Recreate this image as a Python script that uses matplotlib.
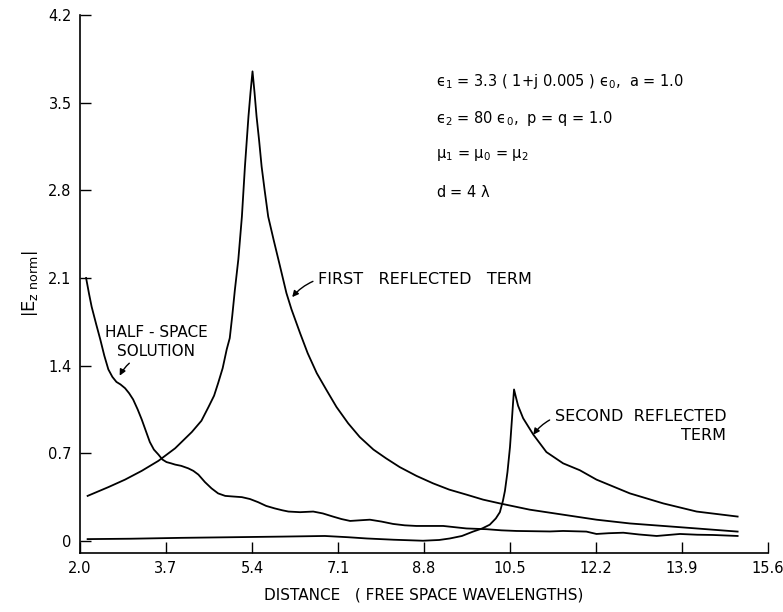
import numpy as np
import matplotlib
matplotlib.use("Agg")
import matplotlib.pyplot as plt

plt.rcParams['font.family'] = ['DejaVu Sans']
plt.rcParams['mathtext.fontset'] = 'dejavusans'
plt.rcParams['mathtext.default'] = 'regular'

# half-space solution
half_x = [2.12, 2.18, 2.23, 2.32, 2.40, 2.48, 2.56, 2.64, 2.72, 2.80, 2.89, 2.97,
          3.05, 3.14, 3.22, 3.30, 3.38, 3.46, 3.55, 3.63, 3.71, 3.80, 3.88, 4.00,
          4.14, 4.24, 4.34, 4.47, 4.60, 4.73, 4.87, 5.03, 5.20, 5.36, 5.52, 5.68,
          5.85, 6.00, 6.12, 6.35, 6.61, 6.80, 7.00, 7.17, 7.34, 7.53, 7.73, 7.96,
          8.19, 8.42, 8.65, 8.92, 9.18, 9.41, 9.64, 10.04, 10.33, 10.63, 11.29,
          11.55, 12.01, 12.21, 12.45, 12.74, 13.05, 13.40, 13.86, 14.20, 14.51, 15.0]
half_y = [2.10, 1.97, 1.87, 1.73, 1.61, 1.48, 1.37, 1.31, 1.27, 1.25, 1.22, 1.18,
          1.13, 1.05, 0.97, 0.88, 0.79, 0.73, 0.69, 0.65, 0.63, 0.62, 0.61, 0.60,
          0.58, 0.56, 0.53, 0.47, 0.42, 0.38, 0.36, 0.355, 0.35, 0.335, 0.31, 0.28,
          0.26, 0.245, 0.235, 0.23, 0.235, 0.22, 0.195, 0.175, 0.16, 0.165, 0.17, 0.155,
          0.136, 0.125, 0.12, 0.12, 0.12, 0.11, 0.10, 0.094, 0.085, 0.08, 0.076,
          0.08, 0.075, 0.056, 0.062, 0.066, 0.052, 0.04, 0.056, 0.05, 0.048, 0.04]

# first reflected term
first_x = [2.15, 2.56, 2.89, 3.22, 3.55, 3.88, 4.21, 4.40, 4.54, 4.65, 4.73, 4.82,
           4.90, 4.96, 5.01, 5.06, 5.13, 5.20, 5.26, 5.33, 5.37, 5.41, 5.45, 5.49,
           5.54, 5.59, 5.65, 5.72, 5.83, 5.95, 6.08, 6.18, 6.35, 6.50, 6.68, 6.88,
           7.07, 7.30, 7.53, 7.80, 8.05, 8.32, 8.65, 8.98, 9.30, 9.64, 9.97, 10.30,
           10.89, 11.55, 12.21, 12.87, 13.53, 14.19, 15.0]
first_y = [0.36, 0.43, 0.49, 0.56, 0.64, 0.74, 0.87, 0.96, 1.07, 1.16, 1.26, 1.38,
           1.53, 1.62, 1.80, 2.00, 2.25, 2.59, 2.99, 3.39, 3.58, 3.75, 3.58, 3.39,
           3.20, 2.99, 2.80, 2.59, 2.40, 2.20, 1.98, 1.85, 1.66, 1.50, 1.34, 1.20,
           1.07, 0.94, 0.83, 0.73, 0.66, 0.59, 0.52, 0.46, 0.41, 0.37, 0.33, 0.30,
           0.25, 0.21, 0.17, 0.14, 0.12, 0.10, 0.075]

# second reflected term
second_x = [2.15, 3.0, 4.0, 5.0, 6.0, 6.84, 7.3, 7.67, 8.2, 8.78, 9.1, 9.31, 9.55,
            9.77, 9.95, 10.10, 10.22, 10.30, 10.36, 10.40, 10.45, 10.50, 10.54, 10.56,
            10.58, 10.61, 10.66, 10.76, 10.96, 11.22, 11.55, 11.88, 12.21, 12.87,
            13.53, 14.19, 15.0]
second_y = [0.015, 0.018, 0.025, 0.03, 0.035, 0.04, 0.03, 0.02, 0.01, 0.002, 0.008, 0.02,
            0.04, 0.075, 0.10, 0.13, 0.18, 0.23, 0.32, 0.40, 0.55, 0.75, 0.98, 1.10,
            1.21, 1.16, 1.08, 0.98, 0.85, 0.71, 0.62, 0.565, 0.49, 0.38,
            0.30, 0.235, 0.195]

xticks = [2.0, 3.7, 5.4, 7.1, 8.8, 10.5, 12.2, 13.9, 15.6]
yticks = [0, 0.7, 1.4, 2.1, 2.8, 3.5, 4.2]
ytick_labels = ['0', '0.7', '1.4', '2.1', '2.8', '3.5', '4.2']

fig = plt.figure(figsize=(7.83, 6.12), dpi=100)
ax = fig.add_axes([0.1022, 0.0964, 0.8786, 0.8791])

for xs, ys in [(half_x, half_y), (first_x, first_y), (second_x, second_y)]:
    ax.plot(xs, ys, color='black', lw=1.3, solid_joinstyle='round')

ax.set_xlim(2.0, 15.6)
ax.set_ylim(-0.096, 4.2)
ax.set_xticks(xticks)
ax.set_xticklabels([f'{v:.1f}' for v in xticks])
ax.set_yticks(yticks)
ax.set_yticklabels(ytick_labels)
ax.tick_params(direction='in', length=8, width=1, labelsize=10.5, pad=6, colors='black')
for s in ['top', 'right']:
    ax.spines[s].set_visible(False)
for s in ['left', 'bottom']:
    ax.spines[s].set_linewidth(1.2)

ax.set_xlabel('DISTANCE   ( FREE SPACE WAVELENGTHS)', fontsize=11, labelpad=8)
ax.set_ylabel(r'$\left|\mathrm{E}_{\mathrm{z\ norm}}\right|$', fontsize=13, labelpad=6)

# parameters
params = ['$ϵ_1$ = 3.3 ( 1+j 0.005 ) $ϵ_0$,  a = 1.0',
          '$ϵ_2$ = 80 $ϵ_0$,  p = q = 1.0',
          r'$\mu_1$ = $\mu_0$ = $\mu_2$',
          r'd = 4 $\lambda$']
for i, line in enumerate(params):
    ax.text(9.04, 3.67 - i * 0.295, line, fontsize=10.5, va='center', ha='left')

arrow = dict(arrowstyle='-|>', color='black', lw=1.0, mutation_scale=9,
             connectionstyle='arc3,rad=0.15')
ax.annotate('HALF - SPACE\nSOLUTION', xy=(2.76, 1.30), xytext=(3.50, 1.59),
            ha='center', va='center', fontsize=11, linespacing=1.3,
            arrowprops=dict(arrow, relpos=(0.3, 0.0)))
ax.annotate('FIRST   REFLECTED   TERM', xy=(6.16, 1.93), xytext=(6.71, 2.09),
            ha='left', va='center', fontsize=11.5,
            arrowprops=dict(arrow, relpos=(0.0, 0.5)))
ax.annotate('SECOND  REFLECTED\nTERM', xy=(10.93, 0.83), xytext=(14.78, 0.92),
            ha='right', va='center', fontsize=11.5, linespacing=1.3,
            multialignment='right',
            arrowprops=dict(arrow, relpos=(0.0, 0.75)))

fig.savefig('out.png', dpi=100)
